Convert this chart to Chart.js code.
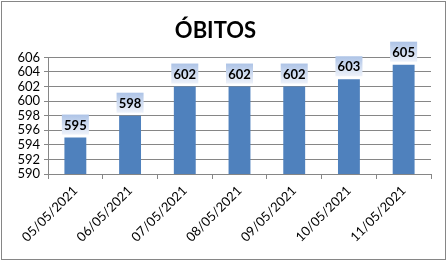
<!DOCTYPE html>
<html>
<head>
<meta charset="utf-8">
<script src="https://cdn.jsdelivr.net/npm/chart.js@4"></script>
<style>
  html, body { margin: 0; padding: 0; background: #fff; }
  #wrap { width: 447px; height: 261px; }
</style>
</head>
<body>
<div id="wrap"><canvas id="obitos-chart" width="447" height="261"></canvas></div>
<script>
const obitos_labels = ['05/05/2021','06/05/2021','07/05/2021','08/05/2021','09/05/2021','10/05/2021','11/05/2021'];
const obitos_values = [595, 598, 602, 602, 602, 603, 605];
const obitos_yMin = 590;
const obitos_yMax = 606;
const obitos_yStep = 2;

const obitos_font = 'Lato, "Open Sans", sans-serif';

// outer frame like the Excel chart border
const obitos_frame = {
  id: 'frame',
  beforeDraw(chart) {
    const c = chart.ctx;
    c.save();
    c.fillStyle = '#fff';
    c.fillRect(0, 0, chart.width, chart.height);
    c.strokeStyle = '#868686';
    c.lineWidth = 1;
    c.strokeRect(1.5, 1.5, chart.width - 3, chart.height - 3);
    c.restore();
  }
};

// value boxes with a light blue gradient above each bar
const obitos_labelsPlugin = {
  id: 'valueBoxes',
  afterDatasetsDraw(chart) {
    const c = chart.ctx;
    const meta = chart.getDatasetMeta(0);
    c.save();
    c.font = 'bold 13px ' + obitos_font;
    c.textAlign = 'center';
    c.textBaseline = 'middle';
    meta.data.forEach((bar, i) => {
      const w = 27, h = 20;
      const x = bar.x - w / 2;
      const y = bar.y - 3 - h;
      const g = c.createLinearGradient(0, y, 0, y + h);
      g.addColorStop(0, '#adc3e6');
      g.addColorStop(1, '#eef2fa');
      c.fillStyle = g;
      c.fillRect(x, y, w, h);
      c.fillStyle = '#000';
      c.fillText(String(obitos_values[i]), bar.x, y + h / 2 + 1);
    });
    c.restore();
  }
};

const obitosChart = new Chart(document.getElementById('obitos-chart').getContext('2d'), {
  type: 'bar',
  plugins: [obitos_frame, obitos_labelsPlugin],
  data: {
    labels: obitos_labels,
    datasets: [{
      label: 'Óbitos',
      data: obitos_values,
      backgroundColor: '#4f81bd',
      borderWidth: 0,
      categoryPercentage: 1,
      barPercentage: 0.4
    }]
  },
  options: {
    responsive: false,
    animation: false,
    layout: { padding: { left: 0, right: 16, top: 0, bottom: 0 } },
    scales: {
      x: {
        grid: { offset: true, drawOnChartArea: false, color: '#868686', tickLength: 5 },
        border: { color: '#868686' },
        ticks: { color: '#000', font: { family: obitos_font, size: 13 }, minRotation: 45, maxRotation: 45, padding: 4 },
        afterFit(s) { s.height = 87; }
      },
      y: {
        min: obitos_yMin,
        max: obitos_yMax,
        grid: { color: '#868686', tickLength: 4 },
        border: { color: '#868686' },
        ticks: { stepSize: obitos_yStep, autoSkip: false, color: '#000', font: { family: obitos_font, size: 13 }, padding: 4 },
        afterFit(s) { s.width = 48; }
      }
    },
    plugins: {
      legend: { display: false },
      tooltip: { enabled: false },
      title: {
        display: true,
        text: 'ÓBITOS',
        color: '#000',
        font: { family: obitos_font, size: 22, weight: 'bold' },
        padding: { top: 18, bottom: 13 }
      }
    }
  }
});
</script>
</body>
</html>
